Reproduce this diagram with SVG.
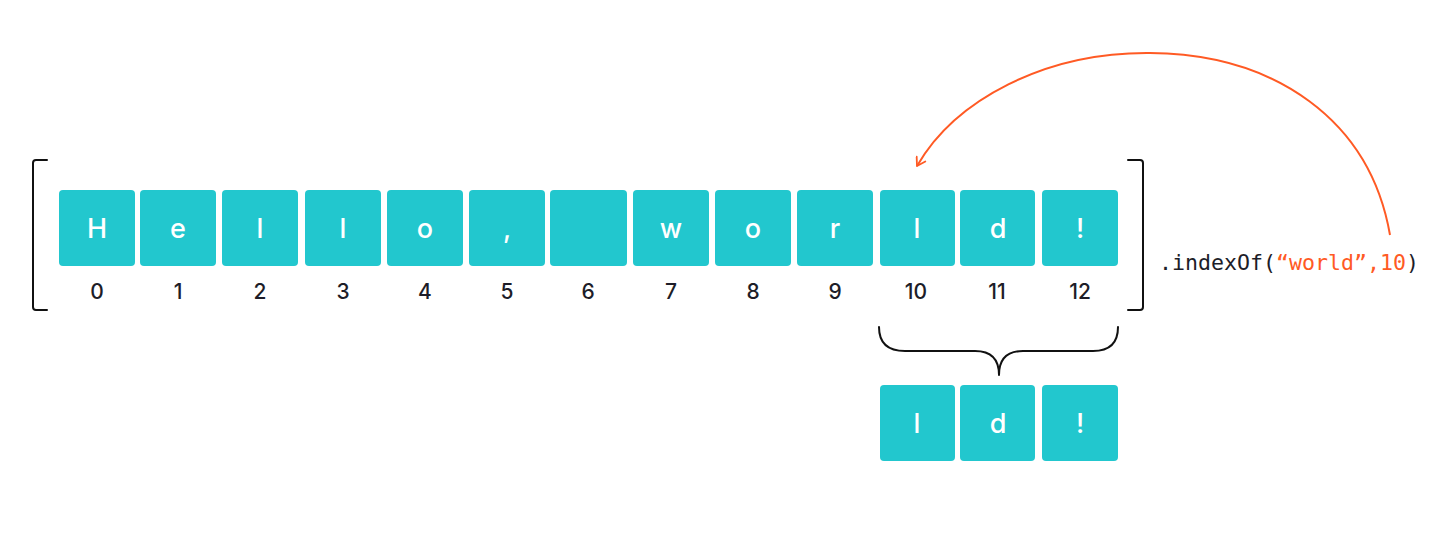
<svg xmlns="http://www.w3.org/2000/svg" width="1440" height="550" viewBox="0 0 1440 550">
<defs>
<style>
.box{fill:#22C7CE}
.ch{font-family:Inter,"Noto Sans",sans-serif;font-size:27px;font-weight:500;fill:#fff;text-anchor:middle}
.idx{font-family:Inter,"Noto Sans",sans-serif;font-size:21px;font-weight:500;fill:#1d1d28;text-anchor:middle}
.br{fill:none;stroke:#111;stroke-width:2;stroke-linecap:round;stroke-linejoin:round}
.code{font-family:"DejaVu Sans Mono","Liberation Mono",monospace;font-size:21.6px;fill:#1d1d28}
.or{fill:#FF5A24}
</style>
<marker id="arr" viewBox="0 0 12 12" refX="10" refY="6" markerWidth="12" markerHeight="12" markerUnits="userSpaceOnUse" orient="auto">
<polyline points="2,1 10,6 2,11" fill="none" stroke="#FF5A24" stroke-width="1.8" stroke-linecap="round" stroke-linejoin="round"/>
</marker>
</defs>
<rect width="1440" height="550" fill="#fff"/>
<g id="array">
<path class="br" d="M47,160 H36 Q33,160 33,163 V307 Q33,310 36,310 H47"/>
<path class="br" d="M1128,160 H1140 Q1143,160 1143,163 V307 Q1143,310 1140,310 H1128"/>
</g>
<g id="n0"><rect class="box" x="59" y="190" width="76" height="76" rx="4"/><text class="ch" x="97" y="238">H</text><text class="idx" x="97" y="299">0</text></g>
<g id="n1"><rect class="box" x="140" y="190" width="76" height="76" rx="4"/><text class="ch" x="178" y="238">e</text><text class="idx" x="178" y="299">1</text></g>
<g id="n2"><rect class="box" x="222" y="190" width="76" height="76" rx="4"/><text class="ch" x="260" y="238">l</text><text class="idx" x="260" y="299">2</text></g>
<g id="n3"><rect class="box" x="305" y="190" width="76" height="76" rx="4"/><text class="ch" x="343" y="238">l</text><text class="idx" x="343" y="299">3</text></g>
<g id="n4"><rect class="box" x="387" y="190" width="76" height="76" rx="4"/><text class="ch" x="425" y="238">o</text><text class="idx" x="425" y="299">4</text></g>
<g id="n5"><rect class="box" x="469" y="190" width="76" height="76" rx="4"/><text class="ch" x="507" y="238">,</text><text class="idx" x="507" y="299">5</text></g>
<g id="n6"><rect class="box" x="550" y="190" width="77" height="76" rx="4"/><text class="idx" x="588" y="299">6</text></g>
<g id="n7"><rect class="box" x="633" y="190" width="76" height="76" rx="4"/><text class="ch" x="671" y="238">w</text><text class="idx" x="671" y="299">7</text></g>
<g id="n8"><rect class="box" x="715" y="190" width="76" height="76" rx="4"/><text class="ch" x="753" y="238">o</text><text class="idx" x="753" y="299">8</text></g>
<g id="n9"><rect class="box" x="797" y="190" width="76" height="76" rx="4"/><text class="ch" x="835" y="238">r</text><text class="idx" x="835" y="299">9</text></g>
<g id="n10"><rect class="box" x="880" y="190" width="75" height="76" rx="4"/><text class="ch" x="917" y="238">l</text><text class="idx" x="916" y="299">10</text></g>
<g id="n11"><rect class="box" x="960" y="190" width="75" height="76" rx="4"/><text class="ch" x="998" y="238">d</text><text class="idx" x="997" y="299">11</text></g>
<g id="n12"><rect class="box" x="1042" y="190" width="76" height="76" rx="4"/><text class="ch" x="1080" y="238">!</text><text class="idx" x="1080" y="299">12</text></g>
<g id="call"><text class="code" x="1159" y="270">.indexOf(<tspan class="or">“world”,10</tspan>)</text></g>
<g id="r0"><rect class="box" x="880" y="385" width="75" height="76" rx="4"/><text class="ch" x="917" y="433">l</text></g>
<g id="r1"><rect class="box" x="960" y="385" width="75" height="76" rx="4"/><text class="ch" x="998" y="433">d</text></g>
<g id="r2"><rect class="box" x="1042" y="385" width="76" height="76" rx="4"/><text class="ch" x="1080" y="433">!</text></g>
<g id="connectors">
<path class="br" d="M879,327 Q879,351 905,351 H975 Q999,351 999,375 Q999,351 1023,351 H1093 Q1118,351 1118,327"/>
<path d="M1390,235 C1370,120 1275,54 1150,53 C1045,52 955,100 917,166" fill="none" stroke="#FF5A24" stroke-width="2" marker-end="url(#arr)"/>
</g>
</svg>
